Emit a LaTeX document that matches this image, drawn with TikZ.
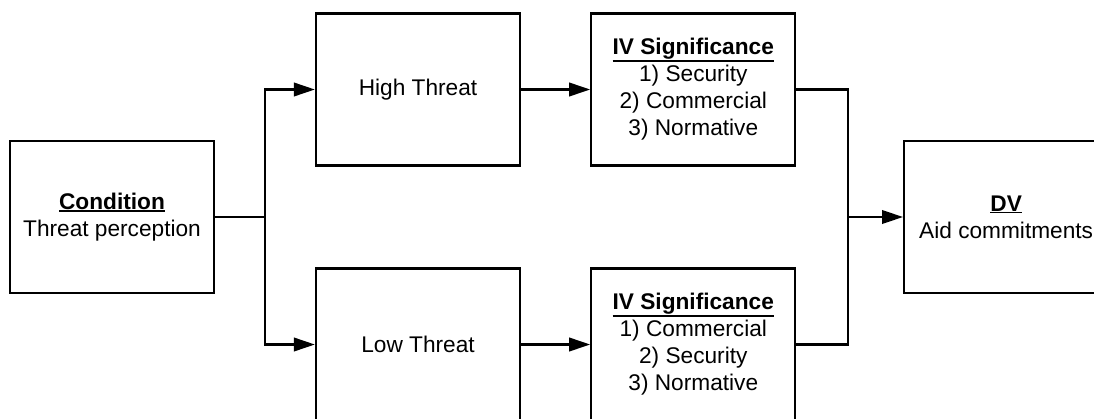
\documentclass[tikz,border=0pt]{standalone}
\usepackage{fontspec}
\setmainfont{Liberation Sans}
\usetikzlibrary{arrows.meta,positioning}

% bold heading with a thick underline below its depth
\newcommand{\headline}[1]{\setbox0\hbox{\textbf{#1}}%
  \rlap{\vrule height -\dimexpr\dp0+0.2pt\relax depth \dimexpr\dp0+1.3pt\relax width \wd0}\box0}

\tikzset{
  box/.style={draw, line width=1.3pt, minimum width=4.08cm, minimum height=3.04cm,
    inner sep=0pt, align=center, font=\fontsize{12.9}{15.4}\selectfont},
  link/.style={line width=1.3pt},
  arr/.style={link, -{Triangle[length=0.42cm,width=0.27cm]}}
}

\begin{document}
\begin{tikzpicture}
  \useasboundingbox (0,0) rectangle (21.88,8.36);

  % Boxes
  \node[box] (cond) at (2.24,4.02) {\headline{Condition}\\Threat perception};
  \node[box] (high) at (8.36,6.57) {High Threat};
  \node[box] (low) at (8.36,1.47) {Low Threat};
  \node[box, right=1.38cm of high] (ivhigh)
    {\headline{IV Significance}\\1) Security\\2) Commercial\\3) Normative};
  \node[box, right=1.38cm of low] (ivlow)
    {\headline{IV Significance}\\1) Commercial\\2) Security\\3) Normative};
  \node[box, anchor=west] (dv) at (18.06,4.02) {\headline{DV}\\Aid commitments};

  % Branch points
  \coordinate (jl) at (5.3,4.02);
  \coordinate (jr) at (16.96,4.02);

  % Connectors
  \draw[link] (cond.east) -- (jl);
  \draw[arr] (jl) |- (high.west);
  \draw[arr] (jl) |- (low.west);
  \draw[arr] (high) -- (ivhigh);
  \draw[arr] (low) -- (ivlow);
  \draw[link] (ivhigh.east) -| (jr);
  \draw[link] (ivlow.east) -| (jr);
  \draw[arr] (jr) -- (dv.west);
\end{tikzpicture}
\end{document}
